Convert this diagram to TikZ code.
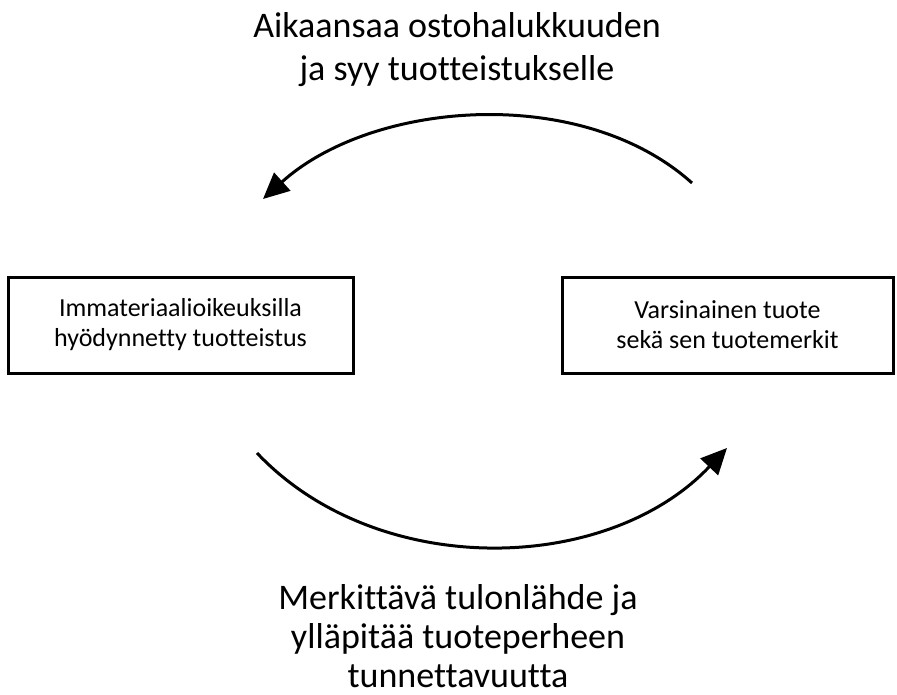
\documentclass[tikz,border=0pt]{standalone}
\usepackage{fontspec}
\setmainfont{Carlito}[Ligatures=CommonOff]
\usetikzlibrary{arrows.meta}

\tikzset{
  box/.style={draw, line width=3pt, minimum width=345pt, minimum height=96pt, align=center, font=\fontsize{26}{30}\selectfont},
  caption/.style={align=center, font=\fontsize{36}{43}\selectfont},
  cycle/.style={line width=3pt, -{Triangle[length=26pt,width=24pt]}}
}

\begin{document}
\begin{tikzpicture}[x=1pt, y=-1pt]
  \useasboundingbox (0,0) rectangle (897,695);

  \node[box] (ip) at (180.5,325) {Immateriaalioikeuksilla\\hyödynnetty tuotteistus};
  \node[box, minimum width=331pt] (prod) at (727.5,325) {Varsinainen tuote\\sekä sen tuotemerkit};

  \node[caption] (top) at (457,50) {Aikaansaa ostohalukkuuden\\ja syy tuotteistukselle};
  \node[caption, font=\fontsize{36}{39}\selectfont] (bottom) at (458,636) {Merkittävä tulonlähde ja\\ylläpitää tuoteperheen\\tunnettavuutta};

  \coordinate (a1) at (692,183);
  \coordinate (a2) at (263,199);
  \coordinate (b1) at (257,453);
  \coordinate (b2) at (727,448);

  \draw[cycle] (a1) .. controls (582,84) and (373,100) .. (a2);
  \draw[cycle] (b1) .. controls (377,580) and (607,575) .. (b2);
\end{tikzpicture}
\end{document}
